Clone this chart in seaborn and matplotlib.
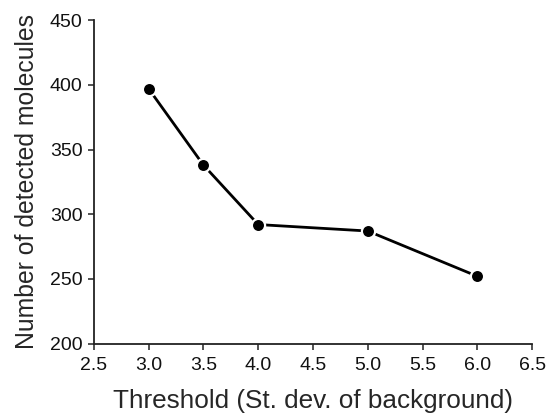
import matplotlib
matplotlib.use("Agg")
import matplotlib.pyplot as plt
import seaborn as sns
import pandas as pd

thresholds = [3.0, 3.5, 4.0, 5.0, 6.0]
molecules = [397, 338, 292, 287, 252]
x_ticks = [2.5, 3.0, 3.5, 4.0, 4.5, 5.0, 5.5, 6.0, 6.5]
y_ticks = [200, 250, 300, 350, 400, 450]

sns.set_style("ticks")
plt.rcParams['font.family'] = ['Liberation Sans', 'DejaVu Sans']

df = pd.DataFrame({"x": thresholds, "y": molecules})

fig = plt.figure(figsize=(5.52, 4.2), dpi=100)
ax = fig.add_axes([0.170, 0.182, 0.794, 0.770])
sns.lineplot(data=df, x="x", y="y", ax=ax, color="black", linewidth=2.0,
             marker="o", markersize=9.5, markerfacecolor="black",
             markeredgecolor="white", markeredgewidth=1.6)

ax.set_xlim(2.5, 6.5)
ax.set_ylim(200, 450)
ax.set_xticks(x_ticks)
ax.set_xticklabels([f"{v:.1f}" for v in x_ticks])
ax.set_yticks(y_ticks)
ax.set_yticklabels([str(v) for v in y_ticks])
for s in ["top", "right"]:
    ax.spines[s].set_visible(False)
for s in ["left", "bottom"]:
    ax.spines[s].set_linewidth(1.3)
    ax.spines[s].set_color("#222222")
ax.tick_params(axis="both", direction="out", length=4.5, width=1.1,
               labelsize=14, colors="#222222", labelcolor="#111111")
ax.tick_params(axis="y", pad=3.5)
ax.tick_params(axis="x", pad=5)
ax.set_xlabel("Threshold (St. dev. of background)", fontsize=18.8, labelpad=11)
ax.set_ylabel("Number of detected molecules", fontsize=17.8, labelpad=8)

fig.savefig("out.png", dpi=100)
